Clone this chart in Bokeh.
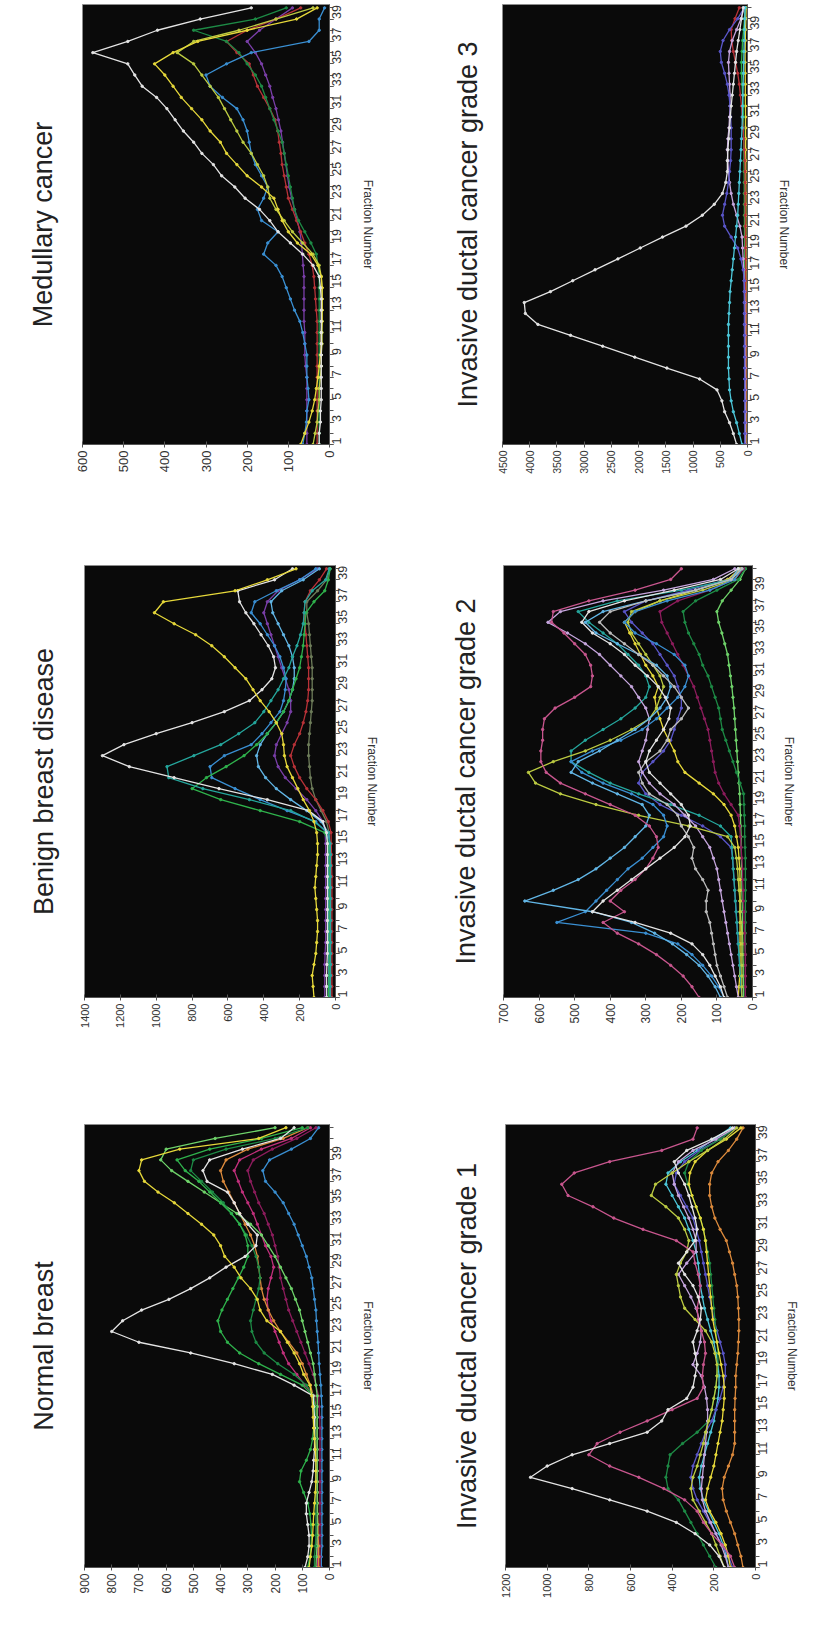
import math
from bokeh.plotting import figure
from bokeh.models import Range1d, FixedTicker
from bokeh.layouts import column, row
from bokeh.embed import file_html
from bokeh.resources import INLINE

FONT = "Liberation Sans"

# ---------------- colours ----------------
WHITE = "#e4e4e4"; WHITE2 = "#bcbcbc"; YELLOW = "#e6d83a"; GREEN = "#2fb24c"
DKGREEN = "#1d8a45"; LGREEN = "#6fd36a"; MAGENTA = "#c2307c"; DKMAG = "#8c1c5c"
BLUE = "#3a8fd2"; LBLUE = "#62b6e6"; PURPLE = "#7a3fa8"; RED = "#b83238"
ORANGE = "#dc8a3c"; LAV = "#c6a6de"; YG = "#bccb42"; TEAL = "#25a69c"
MAUVE = "#c8568e"; VIOLET = "#5a56c8"; OLIVE = "#6e7d5a"; CYAN = "#4cc6d8"

FRACTION_TICKS = [1, 3, 5, 7, 9, 11, 13, 15, 17, 19, 21, 23, 25, 27, 29, 31, 33, 35, 37, 39]

# ---------------- Normal breast (42 fractions) ----------------
NB_WHITE = [90, 80, 75, 75, 80, 85, 85, 75, 65, 60, 58, 55, 55, 55, 55, 58, 60, 130, 210, 350,
            510, 700, 800, 760, 690, 590, 510, 440, 380, 310, 270, 265, 300, 330, 350, 375, 450, 465, 440, 320,
            180, 130]
NB_YELLOW = [75, 70, 65, 62, 60, 58, 55, 52, 50, 50, 50, 52, 55, 58, 60, 62, 65, 72, 95, 110,
             130, 155, 180, 230, 255, 265, 290, 325, 350, 385, 400, 425, 470, 520, 570, 630, 680, 700, 690, 550,
             260, 160]
NB_GREEN1 = [80, 72, 68, 66, 68, 72, 80, 95, 110, 105, 85, 70, 62, 58, 56, 56, 60, 100, 180, 260,
             330, 375, 400, 410, 395, 375, 355, 335, 315, 300, 300, 310, 330, 360, 400, 440, 480, 530, 560, 440,
             250, 100]
NB_GREEN2 = [55, 55, 52, 50, 50, 50, 50, 50, 50, 50, 50, 50, 50, 50, 50, 52, 58, 85, 130, 190,
             240, 270, 285, 290, 280, 270, 260, 255, 260, 270, 285, 305, 330, 360, 390, 430, 470, 510, 500, 380,
             200, 80]
NB_GREEN3 = [50, 48, 46, 45, 45, 45, 45, 45, 45, 45, 45, 45, 45, 45, 45, 45, 45, 50, 55, 60,
             70, 80, 90, 100, 110, 125, 140, 160, 180, 200, 225, 250, 290, 340, 400, 460, 520, 580, 620, 600,
             420, 200]
NB_MAGENTA = [45, 45, 45, 45, 45, 45, 45, 48, 50, 50, 50, 50, 50, 50, 50, 52, 55, 90, 120, 150,
              170, 185, 200, 215, 225, 230, 225, 215, 205, 215, 235, 250, 265, 280, 300, 320, 335, 350, 330, 250,
              140, 70]
NB_DKMAG = [35, 35, 35, 35, 35, 35, 35, 35, 35, 35, 35, 35, 35, 35, 36, 38, 40, 50, 60, 75,
            90, 105, 120, 135, 150, 160, 170, 180, 185, 190, 200, 210, 225, 240, 260, 275, 290, 300, 280, 210,
            120, 50]
NB_BLUE = [30, 30, 28, 28, 28, 28, 28, 28, 28, 28, 28, 28, 28, 28, 28, 28, 30, 32, 35, 38,
           40, 42, 45, 48, 50, 55, 60, 65, 75, 85, 100, 115, 130, 150, 170, 200, 235, 245, 220, 140,
           70, 40]
NB_ORANGE = [40, 40, 40, 42, 42, 44, 44, 45, 45, 46, 46, 47, 48, 48, 49, 50, 60, 70, 85, 100,
             120, 150, 180, 205, 225, 240, 250, 255, 260, 265, 275, 290, 310, 330, 350, 370, 390, 400, 380, 300,
             170, 80]

# ---------------- Benign breast disease (40 fractions) ----------------
BB_YELLOW = [120, 125, 130, 120, 110, 105, 100, 100, 105, 110, 115, 110, 105, 100, 100, 105, 120, 145, 180, 210,
             240, 270, 285, 290, 300, 330, 370, 420, 460, 500, 560, 620, 690, 780, 900, 1010, 960, 560, 380, 220]
BB_WHITE = [50, 50, 50, 48, 45, 45, 45, 45, 45, 45, 45, 45, 45, 45, 45, 50, 70, 150, 380, 650,
            900, 1150, 1300, 1180, 1000, 800, 620, 480, 410, 355, 335, 345, 375, 415, 455, 500, 535, 545, 340, 240]
BB_GREEN = [30, 30, 28, 28, 28, 28, 28, 28, 28, 28, 28, 28, 28, 28, 30, 40, 120, 250, 480, 740,
            930, 940, 790, 640, 540, 450, 400, 360, 320, 290, 260, 240, 215, 195, 180, 175, 170, 130, 55, 35]
BB_GREEN2 = [40, 38, 35, 35, 35, 35, 35, 35, 35, 35, 35, 35, 35, 35, 38, 60, 200, 420, 640, 800,
             720, 610, 510, 440, 380, 330, 290, 260, 240, 220, 200, 190, 180, 175, 170, 165, 120, 60, 40, 30]
BB_BLUE = [40, 40, 38, 38, 38, 38, 38, 38, 38, 38, 38, 38, 38, 38, 40, 50, 110, 270, 420, 560,
           690, 700, 620, 470, 410, 360, 310, 290, 280, 275, 290, 310, 340, 380, 420, 470, 450, 330, 200, 110]
BB_LBLUE = [30, 30, 30, 30, 30, 30, 30, 30, 30, 30, 30, 30, 30, 30, 32, 40, 80, 160, 250, 330,
            390, 430, 440, 420, 380, 330, 290, 260, 240, 230, 230, 240, 260, 290, 320, 350, 360, 300, 180, 90]
BB_PURPLE = [60, 60, 60, 60, 58, 55, 55, 55, 55, 55, 55, 55, 55, 55, 55, 58, 70, 110, 160, 220,
             280, 320, 340, 330, 300, 270, 250, 250, 260, 280, 300, 320, 340, 360, 380, 400, 380, 320, 200, 100]
BB_RED = [20, 20, 20, 20, 20, 20, 20, 20, 20, 20, 20, 20, 22, 22, 24, 25, 40, 70, 110, 160,
          200, 230, 250, 230, 200, 180, 165, 155, 150, 150, 150, 155, 160, 165, 170, 175, 170, 140, 90, 50]
BB_OLIVE = [30, 30, 30, 30, 30, 30, 30, 30, 30, 30, 30, 30, 30, 30, 32, 36, 50, 80, 110, 130,
            140, 145, 150, 150, 145, 140, 135, 130, 130, 130, 130, 135, 140, 145, 150, 160, 160, 100, 50, 30]

# ---------------- Medullary cancer (40 fractions) ----------------
MD_WHITE = [25, 25, 22, 22, 20, 20, 20, 20, 20, 20, 20, 20, 20, 20, 22, 25, 40, 65, 95, 125,
            145, 170, 205, 230, 262, 282, 310, 330, 355, 375, 395, 420, 455, 473, 490, 575, 490, 418, 314, 190]
MD_YELLOW = [70, 60, 50, 42, 36, 32, 28, 25, 22, 20, 20, 18, 18, 18, 18, 20, 28, 45, 78, 100,
             115, 125, 135, 165, 200, 225, 250, 265, 290, 310, 335, 360, 380, 400, 425, 380, 320, 200, 80, 30]
MD_YELLOW2 = [40, 35, 30, 28, 25, 25, 22, 20, 20, 18, 18, 18, 18, 18, 18, 20, 25, 40, 65, 90,
              110, 130, 145, 150, 160, 175, 190, 210, 225, 240, 255, 270, 290, 310, 330, 370, 330, 220, 130, 40]
MD_BLUE = [65, 60, 56, 55, 50, 52, 55, 55, 55, 60, 65, 72, 85, 95, 105, 115, 130, 160, 150, 125,
           165, 175, 160, 150, 165, 180, 190, 195, 200, 210, 225, 260, 290, 300, 250, 190, 50, 25, 25, 12]
MD_GREEN = [25, 25, 25, 25, 25, 25, 25, 25, 25, 25, 25, 25, 25, 25, 25, 25, 28, 32, 45, 60,
            75, 85, 90, 95, 100, 105, 110, 115, 125, 135, 145, 155, 165, 180, 200, 220, 250, 330, 180, 105]
MD_RED = [30, 30, 30, 30, 30, 30, 30, 30, 30, 30, 30, 30, 32, 34, 36, 38, 42, 50, 60, 70,
          80, 90, 100, 105, 110, 115, 118, 122, 126, 132, 145, 160, 175, 185, 195, 225, 250, 200, 130, 70]
MD_MAGENTA = [55, 55, 55, 55, 55, 55, 55, 58, 60, 60, 60, 62, 62, 62, 62, 62, 64, 66, 68, 72,
              78, 85, 92, 98, 102, 106, 110, 114, 118, 124, 130, 138, 145, 155, 165, 180, 200, 170, 130, 90]

# ---------------- Invasive ductal cancer grade 3 (41 fractions) ----------------
ID3_WHITE = [200, 260, 330, 420, 470, 560, 880, 1480, 2070, 2660, 3250, 3850, 4080, 4100, 3620, 3210, 2800, 2380,
             1970, 1560, 1130, 830, 610, 460, 400, 370, 370, 360, 345, 330, 315, 300, 280, 260, 240, 220, 200,
             170, 140, 110, 80]
ID3_CYAN = [100, 150, 200, 260, 300, 330, 340, 350, 350, 350, 350, 350, 340, 330, 320, 300, 280, 260, 240, 220,
            200, 180, 170, 160, 150, 140, 130, 120, 110, 100, 95, 90, 85, 80, 75, 70, 65, 60, 55, 50, 45]
ID3_BLUE = [50, 50, 50, 50, 50, 52, 52, 54, 54, 56, 56, 58, 58, 60, 60, 60, 80, 120, 180, 300,
            420, 460, 420, 380, 350, 330, 310, 300, 300, 300, 310, 320, 340, 370, 420, 480, 500, 450, 330, 180, 60]
ID3_LAV = [40, 40, 40, 40, 42, 42, 44, 44, 46, 46, 48, 48, 50, 50, 55, 60, 70, 80, 90, 100,
           140, 200, 260, 300, 330, 350, 360, 370, 360, 340, 330, 320, 320, 330, 340, 350, 330, 280, 200, 120, 60]
ID3_RED = [30, 30, 30, 30, 30, 30, 30, 30, 30, 30, 30, 30, 32, 32, 34, 34, 36, 36, 38, 38,
           40, 40, 42, 42, 44, 46, 50, 60, 70, 80, 95, 110, 130, 150, 180, 220, 260, 290, 300, 230, 150]
ID3_GREEN = [30, 32, 34, 36, 40, 42, 44, 45, 45, 45, 46, 47, 48, 49, 50, 51, 52, 53, 54, 55,
             56, 57, 58, 59, 60, 62, 64, 66, 68, 70, 75, 80, 90, 100, 110, 110, 100, 90, 70, 55, 40]
ID3_YELLOW = [20, 22, 24, 25, 26, 27, 28, 28, 28, 28, 28, 28, 28, 28, 28, 28, 28, 28, 28, 30,
              30, 30, 30, 30, 32, 32, 32, 34, 34, 36, 36, 38, 40, 40, 42, 44, 44, 40, 36, 30, 25]

# ---------------- Invasive ductal cancer grade 2 (41 fractions) ----------------
ID2_MAUVE = [150, 170, 195, 230, 270, 320, 380, 420, 360, 400, 370, 330, 300, 280, 265, 270, 290, 330, 400, 470,
             540, 580, 595, 595, 590, 590, 585, 555, 500, 455, 450, 455, 470, 500, 530, 565, 560, 460, 330, 230, 200]
ID2_BLUEA = [90, 105, 125, 150, 185, 225, 275, 340, 450, 640, 560, 490, 440, 400, 360, 330, 300, 290, 310, 380,
             450, 510, 490, 430, 380, 330, 290, 260, 240, 230, 240, 270, 320, 380, 440, 470, 420, 300, 160, 60, 40]
ID2_BLUEB = [80, 95, 115, 140, 170, 210, 300, 550, 470, 440, 410, 380, 350, 310, 280, 250, 240, 250, 280, 340,
             420, 480, 510, 450, 370, 310, 270, 240, 210, 190, 180, 190, 220, 270, 330, 360, 330, 240, 120, 50, 30]
ID2_WHITE1 = [80, 90, 105, 120, 140, 170, 230, 330, 450, 420, 380, 340, 300, 260, 220, 190, 175, 180, 200, 230,
              260, 290, 300, 290, 270, 250, 235, 230, 245, 265, 295, 330, 360, 400, 450, 480, 460, 360, 220, 90, 40]
ID2_WHITE2 = [70, 80, 90, 100, 105, 110, 115, 120, 130, 130, 125, 140, 160, 170, 165, 180, 200, 210, 240, 290,
              310, 320, 300, 260, 240, 230, 200, 180, 200, 220, 250, 280, 320, 360, 400, 430, 400, 300, 160, 60, 30]
ID2_YG = [30, 30, 30, 30, 30, 30, 30, 32, 35, 35, 38, 40, 42, 45, 50, 70, 180, 320, 440, 540,
          610, 630, 560, 470, 400, 340, 290, 270, 260, 250, 260, 280, 300, 320, 340, 350, 340, 260, 140, 50, 30]
ID2_TEAL = [30, 32, 34, 36, 38, 40, 42, 44, 46, 48, 50, 52, 54, 56, 58, 60, 90, 150, 230, 320,
            400, 460, 510, 510, 470, 420, 370, 330, 300, 290, 300, 320, 350, 380, 420, 460, 490, 380, 200, 60, 30]
ID2_YELLOW = [40, 38, 36, 35, 35, 35, 35, 35, 35, 35, 35, 35, 36, 38, 40, 45, 50, 60, 80, 110,
              150, 190, 210, 220, 235, 250, 260, 270, 275, 265, 280, 300, 315, 330, 345, 360, 330, 260, 160, 70, 35]
ID2_DKGREEN = [20, 20, 20, 20, 20, 20, 20, 20, 20, 20, 20, 20, 20, 20, 21, 22, 22, 23, 24, 25,
               35, 45, 55, 65, 75, 85, 90, 95, 105, 115, 125, 140, 150, 165, 180, 190, 195, 160, 100, 40, 20]
ID2_MAROON = [20, 20, 20, 20, 20, 22, 22, 24, 24, 26, 26, 28, 28, 30, 32, 34, 36, 40, 60, 80,
              95, 105, 110, 115, 120, 125, 135, 145, 155, 165, 180, 195, 210, 225, 240, 255, 260, 210, 120, 50, 25]
ID2_LAV = [40, 45, 50, 55, 60, 65, 70, 75, 80, 85, 90, 95, 100, 110, 120, 140, 160, 190, 220, 260,
           290, 310, 320, 310, 300, 295, 290, 300, 320, 340, 370, 400, 430, 470, 520, 575, 540, 420, 250, 110, 50]
ID2_VIOLET = [30, 32, 34, 36, 38, 40, 42, 44, 46, 48, 50, 52, 54, 56, 60, 90, 140, 200, 260, 300,
              320, 310, 280, 250, 230, 220, 210, 200, 200, 210, 220, 240, 260, 280, 310, 340, 360, 300, 180, 70, 30]
ID2_LGREEN = [25, 25, 26, 26, 27, 27, 28, 28, 29, 29, 30, 30, 31, 31, 32, 32, 33, 34, 35, 36,
              38, 40, 42, 44, 46, 48, 50, 52, 55, 58, 62, 66, 70, 78, 86, 95, 100, 85, 60, 35, 20]

# ---------------- Invasive ductal cancer grade 1 (40 fractions) ----------------
ID1_WHITE = [150, 175, 220, 290, 380, 520, 700, 880, 1080, 1000, 880, 700, 520, 450, 420, 330, 300, 290, 280, 290,
             300, 280, 265, 260, 275, 300, 340, 370, 330, 290, 280, 290, 305, 320, 340, 370, 390, 330, 210, 110]
ID1_MAG = [100, 120, 160, 210, 250, 280, 340, 440, 560, 700, 800, 760, 650, 520, 400, 280, 250, 255, 250, 240,
           245, 260, 275, 280, 270, 265, 275, 290, 300, 380, 540, 680, 780, 900, 930, 870, 700, 450, 300, 280]
ID1_DKGREEN = [190, 220, 250, 280, 310, 340, 370, 420, 430, 420, 410, 350, 280, 225, 210, 200, 190, 185, 180, 180,
               185, 190, 195, 200, 205, 210, 215, 220, 230, 240, 250, 265, 285, 305, 325, 340, 320, 260, 170, 100]
ID1_BLUE = [110, 130, 160, 190, 220, 250, 280, 300, 310, 300, 280, 260, 240, 210, 190, 170, 155, 145, 145, 155,
            170, 185, 200, 210, 220, 230, 240, 250, 260, 270, 285, 300, 330, 360, 390, 380, 340, 270, 170, 100]
ID1_YG = [150, 170, 190, 210, 240, 270, 300, 310, 300, 280, 265, 250, 240, 225, 210, 200, 190, 185, 185, 195,
          210, 240, 290, 340, 360, 370, 380, 360, 330, 320, 340, 370, 430, 500, 480, 400, 320, 230, 150, 90]
ID1_YELLOW = [120, 130, 145, 165, 190, 220, 240, 230, 215, 200, 190, 180, 170, 160, 155, 150, 150, 155, 165, 175,
              185, 195, 205, 210, 215, 220, 225, 230, 235, 240, 250, 265, 285, 305, 320, 315, 290, 230, 140, 70]
ID1_ORANGE = [60, 70, 85, 100, 120, 140, 155, 160, 150, 130, 110, 100, 100, 100, 100, 98, 95, 95, 90, 85,
              82, 80, 80, 82, 85, 90, 100, 110, 125, 140, 170, 195, 210, 220, 220, 210, 180, 130, 90, 60]
ID1_LAV = [130, 145, 165, 190, 215, 240, 255, 260, 255, 250, 245, 240, 235, 230, 230, 235, 245, 260, 300, 280,
           265, 260, 270, 285, 310, 340, 370, 330, 285, 285, 300, 320, 345, 370, 390, 400, 370, 300, 190, 100]
ID1_CYAN = [130, 140, 155, 175, 200, 225, 250, 265, 270, 260, 245, 230, 215, 200, 190, 180, 175, 175, 180, 190,
            200, 215, 230, 245, 255, 265, 270, 275, 285, 300, 320, 340, 370, 400, 430, 420, 360, 280, 200, 120]


def make_panel(title, series, vmax, vstep, geo, vfont, tstand, lstand):
    w, h, l, r, t, b = geo
    n = len(series[0][0])
    p = figure(width=w, height=h, x_range=Range1d(vmax, 0), y_range=Range1d(1, n + 0.3),
               output_backend="svg", toolbar_location=None, y_axis_location="right",
               title=title, title_location="left",
               min_border_left=l, min_border_right=r, min_border_top=t, min_border_bottom=b,
               background_fill_color="#0a0a0a", border_fill_color="white",
               outline_line_color="#8c8c8c", outline_line_width=1)
    p.title.align = "center"
    p.title.text_font = FONT
    p.title.text_font_size = "27px"
    p.title.text_font_style = "normal"
    p.title.text_color = "#222222"
    p.title.standoff = tstand
    p.grid.visible = False
    fr = list(range(1, n + 1))
    for vals, color in series:
        p.line(vals, fr, line_color=color, line_width=1.3)
        p.scatter(vals, fr, size=2.4, color=color)
    # value axis (bottom)
    xa = p.xaxis[0]
    xa.ticker = FixedTicker(ticks=list(range(0, vmax + 1, vstep)))
    xa.major_label_orientation = math.pi / 2
    xa.major_label_text_font = FONT
    xa.major_label_text_font_size = vfont
    xa.major_label_text_color = "#333333"
    xa.major_label_standoff = 3
    xa.major_tick_in = 3
    xa.major_tick_out = 3
    xa.minor_tick_line_color = None
    xa.axis_line_color = "#555555"
    xa.major_tick_line_color = "#555555"
    # fraction axis (right)
    ya = p.yaxis[0]
    ya.ticker = FixedTicker(ticks=FRACTION_TICKS, minor_ticks=fr)
    ya.major_label_orientation = math.pi / 2
    ya.major_label_text_font = FONT
    ya.major_label_text_font_size = "12.5px"
    ya.major_label_text_color = "#333333"
    ya.major_label_standoff = 3
    ya.major_tick_in = 0
    ya.major_tick_out = 4
    ya.minor_tick_in = 0
    ya.minor_tick_out = 4
    ya.axis_line_color = "#555555"
    ya.major_tick_line_color = "#555555"
    ya.minor_tick_line_color = "#555555"
    ya.axis_label = "Fraction Number"
    ya.axis_label_text_font = FONT
    ya.axis_label_text_font_size = "12px"
    ya.axis_label_text_font_style = "normal"
    ya.axis_label_text_color = "#333333"
    ya.axis_label_standoff = lstand
    return p


p_med = make_panel("Medullary cancer",
                   [(MD_MAGENTA, PURPLE), (MD_RED, RED), (MD_GREEN, DKGREEN), (MD_BLUE, BLUE),
                    (MD_YELLOW2, YG), (MD_YELLOW, YELLOW), (MD_WHITE, WHITE)],
                   600, 100, (400, 554, 80, 71, 4, 110), "13px", 50, 12)
p_id3 = make_panel("Invasive ductal cancer grade 3",
                   [(ID3_YELLOW, YELLOW), (ID3_GREEN, GREEN), (ID3_RED, RED), (ID3_LAV, LAV),
                    (ID3_BLUE, VIOLET), (ID3_CYAN, CYAN), (ID3_WHITE, WHITE)],
                   4500, 500, (404, 554, 102, 57, 2, 102), "10.5px", 40, 10)
p_bb = make_panel("Benign breast disease",
                  [(BB_OLIVE, OLIVE), (BB_RED, RED), (BB_PURPLE, PURPLE), (BB_LBLUE, LBLUE), (BB_BLUE, BLUE),
                   (BB_GREEN2, GREEN), (BB_GREEN, TEAL), (BB_WHITE, WHITE), (BB_YELLOW, YELLOW)],
                  1400, 200, (400, 546, 81, 65, 8, 103), "11px", 52, 10)
p_id2 = make_panel("Invasive ductal cancer grade 2",
                   [(ID2_LGREEN, LGREEN), (ID2_DKGREEN, DKGREEN), (ID2_MAROON, DKMAG), (ID2_VIOLET, VIOLET),
                    (ID2_YELLOW, YELLOW), (ID2_TEAL, TEAL), (ID2_LAV, LAV), (ID2_YG, YG), (ID2_BLUEB, BLUE),
                    (ID2_BLUEA, LBLUE), (ID2_WHITE2, WHITE2), (ID2_MAUVE, MAUVE), (ID2_WHITE1, WHITE)],
                   700, 100, (404, 546, 103, 52, 11, 86), "12px", 45, 10)
p_nb = make_panel("Normal breast",
                  [(NB_BLUE, BLUE), (NB_DKMAG, DKMAG), (NB_MAGENTA, MAGENTA), (NB_ORANGE, ORANGE),
                   (NB_GREEN3, LGREEN), (NB_GREEN2, DKGREEN), (NB_GREEN1, GREEN), (NB_WHITE, WHITE),
                   (NB_YELLOW, YELLOW)],
                  900, 100, (400, 532, 81, 71, 15, 60), "12px", 52, 12)
p_id1 = make_panel("Invasive ductal cancer grade 1",
                   [(ID1_ORANGE, ORANGE), (ID1_CYAN, CYAN), (ID1_BLUE, VIOLET), (ID1_DKGREEN, DKGREEN),
                    (ID1_YELLOW, YELLOW), (ID1_LAV, LAV), (ID1_YG, YG), (ID1_MAG, MAUVE), (ID1_WHITE, WHITE)],
                   1200, 200, (404, 532, 105, 49, 24, 65), "11px", 48, 10)

layout = column(row(p_med, p_id3), row(p_bb, p_id2), row(p_nb, p_id1))

with open("out.html", "w") as f:
    f.write(file_html(layout, INLINE, "Fraction profiles"))
